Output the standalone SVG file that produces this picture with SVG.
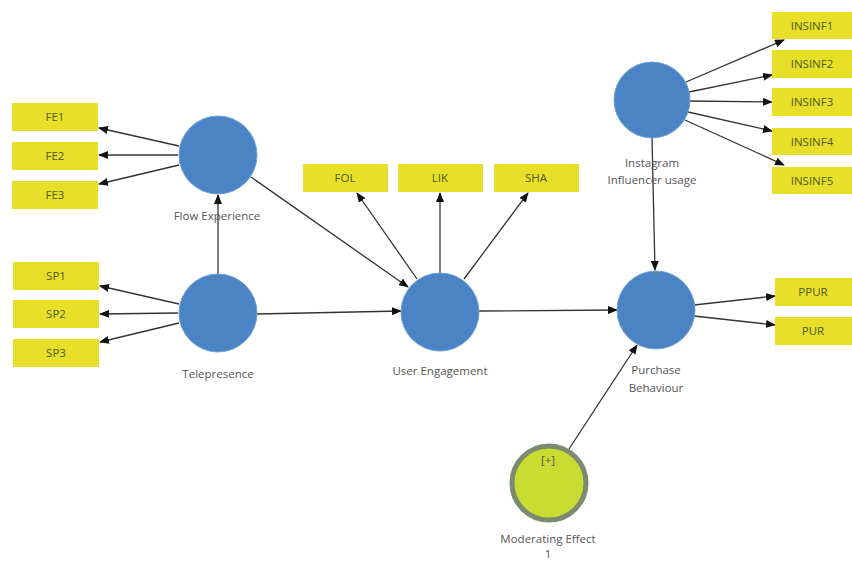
<svg xmlns="http://www.w3.org/2000/svg" width="852" height="562" viewBox="0 0 852 562">
<defs>
<marker id="ah" markerWidth="10" markerHeight="8" refX="9" refY="4" orient="auto" markerUnits="userSpaceOnUse">
<path d="M0,0 L10,4 L0,8 Z" fill="#111"/>
</marker>
<style>
.box{fill:#e8df2a;}
.bt{font-family:"Open Sans","Noto Sans",sans-serif;font-size:11.5px;fill:#4f5a18;text-anchor:middle;}
.lv{fill:#4a84c4;stroke:#6fa0d8;stroke-width:1;}
.lt{font-family:"Open Sans","Noto Sans",sans-serif;font-size:11.5px;fill:#555;text-anchor:middle;}
.c{stroke:#333;stroke-width:1.3;fill:none;marker-end:url(#ah);}
</style>
</defs>
<rect width="852" height="562" fill="#fff"/>
<g id="connectors">
<line class="c" x1="179" y1="146" x2="99" y2="128"/>
<line class="c" x1="178" y1="155" x2="99" y2="155"/>
<line class="c" x1="179" y1="165" x2="99" y2="184"/>
<line class="c" x1="179" y1="304" x2="100" y2="286"/>
<line class="c" x1="178" y1="313" x2="100" y2="314"/>
<line class="c" x1="179" y1="323" x2="100" y2="342"/>
<line class="c" x1="218" y1="274" x2="218" y2="195"/>
<line class="c" x1="251" y1="177" x2="408" y2="287"/>
<line class="c" x1="257" y1="314" x2="401" y2="311"/>
<line class="c" x1="417" y1="279" x2="357" y2="193"/>
<line class="c" x1="440" y1="273" x2="440" y2="193"/>
<line class="c" x1="464" y1="279" x2="528" y2="193"/>
<line class="c" x1="479" y1="311" x2="617" y2="310"/>
<line class="c" x1="652" y1="138" x2="655" y2="270"/>
<line class="c" x1="686" y1="82" x2="784" y2="40"/>
<line class="c" x1="689" y1="92" x2="772" y2="75"/>
<line class="c" x1="690" y1="101" x2="772" y2="102"/>
<line class="c" x1="688" y1="112" x2="772" y2="131"/>
<line class="c" x1="685" y1="120" x2="784" y2="165"/>
<line class="c" x1="694" y1="305" x2="775" y2="296"/>
<line class="c" x1="694" y1="316" x2="775" y2="325"/>
<line class="c" x1="569" y1="449" x2="637" y2="345"/>
</g>
<g id="FE1"><rect class="box" x="12" y="103" width="86" height="28"/><text class="bt" x="55" y="121">FE1</text></g>
<g id="FE2"><rect class="box" x="12" y="142" width="86" height="28"/><text class="bt" x="55" y="160">FE2</text></g>
<g id="FE3"><rect class="box" x="12" y="181" width="86" height="28"/><text class="bt" x="55" y="199">FE3</text></g>
<g id="SP1"><rect class="box" x="13" y="262" width="86" height="28"/><text class="bt" x="56" y="280">SP1</text></g>
<g id="SP2"><rect class="box" x="13" y="300" width="86" height="28"/><text class="bt" x="56" y="318">SP2</text></g>
<g id="SP3"><rect class="box" x="13" y="339" width="86" height="28"/><text class="bt" x="56" y="357">SP3</text></g>
<g id="FOL"><rect class="box" x="303" y="164" width="85" height="28"/><text class="bt" x="345" y="182">FOL</text></g>
<g id="LIK"><rect class="box" x="398" y="164" width="85" height="28"/><text class="bt" x="440" y="182">LIK</text></g>
<g id="SHA"><rect class="box" x="494" y="164" width="85" height="28"/><text class="bt" x="536" y="182">SHA</text></g>
<g id="INSINF1"><rect class="box" x="772" y="12" width="80" height="27"/><text class="bt" x="812" y="30">INSINF1</text></g>
<g id="INSINF2"><rect class="box" x="772" y="50" width="80" height="28"/><text class="bt" x="812" y="68">INSINF2</text></g>
<g id="INSINF3"><rect class="box" x="772" y="88" width="80" height="28"/><text class="bt" x="812" y="106">INSINF3</text></g>
<g id="INSINF4"><rect class="box" x="772" y="128" width="80" height="27"/><text class="bt" x="812" y="146">INSINF4</text></g>
<g id="INSINF5"><rect class="box" x="772" y="167" width="80" height="27"/><text class="bt" x="812" y="185">INSINF5</text></g>
<g id="PPUR"><rect class="box" x="775" y="278" width="77" height="28"/><text class="bt" x="813" y="296">PPUR</text></g>
<g id="PUR"><rect class="box" x="775" y="317" width="77" height="28"/><text class="bt" x="813" y="335">PUR</text></g>
<g id="FlowExperience"><circle class="lv" cx="218" cy="155" r="39"/><text class="lt" x="217" y="220">Flow Experience</text></g>
<g id="Telepresence"><circle class="lv" cx="218" cy="313" r="39"/><text class="lt" x="218" y="378">Telepresence</text></g>
<g id="UserEngagement"><circle class="lv" cx="440" cy="312" r="39"/><text class="lt" x="440" y="375">User Engagement</text></g>
<g id="InstagramInfluencerUsage"><circle class="lv" cx="652" cy="100" r="38"/><text class="lt" x="652" y="167">Instagram</text><text class="lt" x="652" y="184">Influencer usage</text></g>
<g id="PurchaseBehaviour"><circle class="lv" cx="656" cy="310" r="39"/><text class="lt" x="656" y="374">Purchase</text><text class="lt" x="656" y="392">Behaviour</text></g>
<g id="ModeratingEffect"><circle cx="549" cy="483" r="37" fill="#c8dc32" stroke="#7c8a70" stroke-width="5"/><text class="lt" x="548" y="464">[+]</text><text class="lt" x="548" y="543" font-size="10.5">Moderating Effect</text><text class="lt" x="548" y="558" font-size="10">1</text></g>
</svg>
